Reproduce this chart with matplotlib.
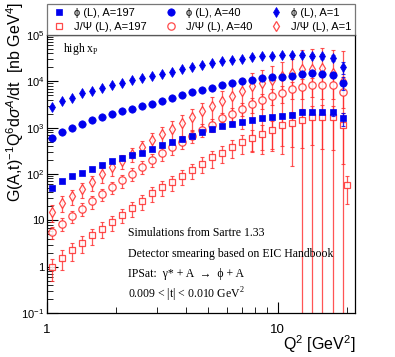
import matplotlib
matplotlib.use('Agg')
import matplotlib.pyplot as plt
import numpy as np
from matplotlib.ticker import FixedLocator, NullFormatter

# --- data ---
q2 = [1.051, 1.162, 1.284, 1.419, 1.568, 1.733, 1.915, 2.116, 2.338, 2.584,
      2.856, 3.156, 3.487, 3.854, 4.259, 4.706, 5.201, 5.747, 6.351, 7.018,
      7.756, 8.570, 9.474, 10.47, 11.57, 12.79, 14.13, 15.61, 17.26, 19.07]

phi_a1 = [2750, 3800, 4470, 5500, 6310, 7240, 8320, 9330, 10500, 11700,
          12900, 14500, 16200, 18200, 20000, 22400, 25100, 26900, 28800, 30200,
          33100, 34700, 35500, 37200, 37200, 37200, 35500, 34700, 31600, 20400]
phi_a40 = [603, 813, 1000, 1200, 1450, 1700, 2000, 2290, 2570, 2880,
           3240, 3720, 4270, 5010, 5750, 6460, 7080, 8130, 9120, 10200,
           10700, 11700, 12300, 12600, 13200, 14100, 14800, 14100, 13800, 9330]
phi_a197 = [50, 69, 89, 107, 129, 158, 191, 219, 251, 288,
            347, 417, 490, 575, 661, 794, 955, 1100, 1230, 1320,
            1450, 1580, 1700, 1820, 1910, 2140, 2140, 2190, 2140, 1580]
phi_rel = [0.04] * 20 + [0.05, 0.05, 0.06, 0.06, 0.07, 0.10, 0.10, 0.12, 0.15, 0.30]

jpsi_a1 = [15.5, 24, 34, 47, 66, 100, 141, 195, 275, 389,
           537, 724, 955, 1260, 1700, 2240, 2880, 3800, 4900, 6310,
           7760, 9120, 10700, 13200, 15100, 18600, 18600, 19100, 15100, 10000]
jpsi_a1_rel = [0.40, 0.38, 0.36, 0.35, 0.35, 0.35, 0.35, 0.35, 0.35, 0.35,
               0.40, 0.42, 0.45, 0.48, 0.50, 0.55, 0.60, 0.65, 0.75, 0.85,
               0.96, 0.97, 0.97, 0.98, 0.99, 1.6, 1.7, 1.7, 2.2, 3.5]
jpsi_a40 = [5.6, 8.5, 12.3, 17.8, 25.7, 37.2, 52.5, 72.4, 102, 145,
            204, 282, 380, 501, 676, 912, 1170, 1580, 2000, 2570,
            3240, 3890, 4900, 5620, 6760, 7590, 8320, 8510, 8130, 6030]
jpsi_a40_rel = [0.30] * 10 + [0.32] * 10 + [0.35, 0.35, 0.38, 0.40, 0.40, 0.45, 0.45, 0.50, 0.50, 0.55]
jpsi_a197_q2 = q2 + [19.9]
jpsi_a197 = [0.98, 1.55, 2.24, 3.31, 4.79, 6.61, 9.12, 13.2, 18.2, 25.7,
             38.0, 51.3, 67.6, 91.2, 123, 166, 229, 288, 380, 490,
             603, 741, 871, 1170, 1260, 1480, 1660, 1700, 1660, 1120, 57.5]
jpsi_a197_rel = [0.50, 0.45, 0.42, 0.40, 0.38, 0.36, 0.35, 0.35, 0.35, 0.35,
                 0.35, 0.35, 0.35, 0.35, 0.35, 0.38, 0.40, 0.40, 0.42, 0.45,
                 0.50, 0.55, 0.60, 0.65, 0.70, 0.75, 0.75, 0.80, 0.80, 0.85, 0.60]

plt.rcParams['font.family'] = 'Liberation Sans'
plt.rcParams['mathtext.fontset'] = 'custom'
plt.rcParams['mathtext.rm'] = 'Liberation Sans'
plt.rcParams['mathtext.it'] = 'Liberation Sans:italic'
plt.rcParams['mathtext.sf'] = 'Liberation Serif'

fig = plt.figure(figsize=(3.95, 3.57), dpi=100)
ax = fig.add_axes([47 / 395, 44 / 357, 308 / 395, 278 / 357])

blue = '#0000ee'
red = '#ff2a2a'


def draw(x, y, rel, marker, ms, filled, color, label, z):
    y = np.array(y, dtype=float)
    err = y * np.array(rel)
    lo = np.minimum(err, y - 1e-3)
    ax.errorbar(x, y, yerr=[lo, err], fmt='none', ecolor=color, elinewidth=0.9,
                capsize=1.2, capthick=0.8, alpha=0.8, zorder=z)
    if filled:
        h, = ax.plot(x, y, ls='none', marker=marker, ms=ms, mfc=color, mec=color,
                     mew=0.5, label=label, zorder=z + 1)
    else:
        h, = ax.plot(x, y, ls='none', marker=marker, ms=ms, mfc='white', mec=color,
                     mew=0.9, alpha=0.85, label=label, zorder=z + 1)
    return h


hj197 = draw(jpsi_a197_q2, jpsi_a197, jpsi_a197_rel, 's', 5.0, False, red, 'J/Ψ (L), A=197', 2)
hj40 = draw(q2, jpsi_a40, jpsi_a40_rel, 'o', 5.3, False, red, 'J/Ψ (L), A=40', 2)
hj1 = draw(q2, jpsi_a1, jpsi_a1_rel, 'd', 5.2, False, red, 'J/Ψ (L), A=1', 2)
hp197 = draw(q2, phi_a197, phi_rel, 's', 5.0, True, blue, 'ϕ (L), A=197', 5)
hp40 = draw(q2, phi_a40, phi_rel, 'o', 5.3, True, blue, 'ϕ (L), A=40', 5)
hp1 = draw(q2, phi_a1, phi_rel, 'd', 5.2, True, blue, 'ϕ (L), A=1', 5)

ax.set_xscale('log')
ax.set_yscale('log')
ax.set_xlim(1, 21.6)
ax.set_ylim(0.1, 1e5)

ax.xaxis.set_major_locator(FixedLocator([1, 10]))
ax.set_xticklabels(['1', '10'])
ax.xaxis.set_minor_locator(FixedLocator([2, 3, 4, 5, 6, 7, 8, 9, 20]))
ax.xaxis.set_minor_formatter(NullFormatter())
yt = [0.1, 1, 10, 100, 1e3, 1e4, 1e5]
ax.yaxis.set_major_locator(FixedLocator(yt))
ax.set_yticklabels(['10$^{-1}$', '1', '10', '10$^{2}$', '10$^{3}$', '10$^{4}$', '10$^{5}$'])
ymin = [m * 10.0 ** e for e in range(-1, 5) for m in range(2, 10)]
ax.yaxis.set_minor_locator(FixedLocator(ymin))
ax.yaxis.set_minor_formatter(NullFormatter())
ax.tick_params(which='both', direction='in', top=False, right=False)
ax.tick_params(which='major', length=8, width=0.8)
ax.tick_params(which='minor', length=4, width=0.6)
ax.tick_params(axis='y', labelsize=8, pad=2)
ax.tick_params(axis='x', labelsize=9.5, pad=8)
for s in ax.spines.values():
    s.set_linewidth(0.9)

fig.text(15 / 395, 0.995, 'G(A,t)$^{-1}$Q$^{6}$d$\\sigma^{A}$/dt  [nb GeV$^{4}$]',
         rotation=90, ha='center', va='top', fontsize=11.5)
fig.text(355 / 395, 1 - 344 / 357, 'Q$^{2}$ [GeV$^{2}$]', ha='right', va='center',
         fontsize=11.5)

serif = 'Liberation Serif'
fig.text(63 / 395, 1 - 49 / 357, 'high x$_{\\mathsf{P}}$', ha='left', va='center',
         fontsize=8.5, family=serif)
lines = ['Simulations from Sartre 1.33',
         'Detector smearing based on EIC Handbook',
         'IPSat:  γ* + A  →  ϕ + A',
         '0.009 < |t| < 0.010 GeV$^{\\mathsf{2}}$']
for k, t in enumerate(lines):
    fig.text(128 / 395, 1 - (233 + 20.7 * k) / 357, t, ha='left', va='center',
             fontsize=8.5, family=serif)

leg = fig.legend([hp197, hj197, hp40, hj40, hp1, hj1],
                 [h.get_label() for h in [hp197, hj197, hp40, hj40, hp1, hj1]],
                 ncol=3, loc='lower left', mode='expand',
                 bbox_to_anchor=(47 / 395, 1 - 35 / 357, 308 / 395, 32 / 357),
                 fontsize=8, frameon=True, fancybox=False, edgecolor='#555555',
                 borderaxespad=0, handletextpad=0.6, labelspacing=0.35,
                 borderpad=0.3, handlelength=1.5)
leg.get_frame().set_linewidth(0.9)

fig.savefig('out.png', dpi=100)
